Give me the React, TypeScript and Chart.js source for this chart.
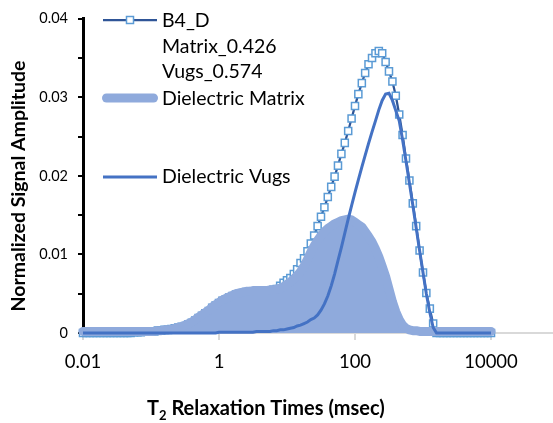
import React, { useEffect, useRef } from 'react';
import { Chart, registerables } from 'chart.js';

Chart.register(...registerables);

// T2 bins (msec), 20 per decade
const T2 = [
  0.01, 0.0112, 0.0126, 0.0141, 0.0158, 0.0178, 0.02, 0.0224, 0.0251, 0.0282, 0.0316, 0.0355, 0.0398, 0.0447, 0.0501, 0.0562, 0.0631, 0.0708, 0.0794, 0.0891,
  0.1, 0.112, 0.126, 0.141, 0.158, 0.178, 0.2, 0.224, 0.251, 0.282, 0.316, 0.355, 0.398, 0.447, 0.501, 0.562, 0.631, 0.708, 0.794, 0.891,
  1, 1.12, 1.26, 1.41, 1.58, 1.78, 2, 2.24, 2.51, 2.82, 3.16, 3.55, 3.98, 4.47, 5.01, 5.62, 6.31, 7.08, 7.94, 8.91,
  10, 11.2, 12.6, 14.1, 15.8, 17.8, 20, 22.4, 25.1, 28.2, 31.6, 35.5, 39.8, 44.7, 50.1, 56.2, 63.1, 70.8, 79.4, 89.1,
  100, 112, 126, 141, 158, 178, 200, 224, 251, 282, 316, 355, 398, 447, 501, 562, 631, 708, 794, 891,
  1000, 1120, 1260, 1410, 1580, 1780, 2000, 2240, 2510, 2820, 3160, 3550, 3980, 4470, 5010, 5620, 6310, 7080, 7940, 8910,
  10000,
];

const B4_D = [
  0, 0, 0, 0, 0, 0, 0, 0, 0, 0, 0, 0, 0, 0, 0, 0.0001, 0.0001, 0.0001, 0.0002, 0.0002,
  0.0002, 0.0002, 0.0003, 0.0003, 0.0004, 0.0004, 0.0005, 0.0006, 0.0007, 0.0008, 0.0009, 0.0011, 0.0013, 0.0016, 0.0019, 0.0022, 0.0025, 0.0028, 0.0032, 0.0035,
  0.0038, 0.0041, 0.0043, 0.0045, 0.0047, 0.0049, 0.005, 0.0051, 0.0052, 0.0052, 0.0053, 0.0053, 0.0053, 0.0053, 0.0054, 0.0054, 0.0055, 0.0056, 0.006, 0.0064,
  0.0067, 0.007, 0.0075, 0.0081, 0.0089, 0.0095, 0.0104, 0.0114, 0.0124, 0.0136, 0.0148, 0.016, 0.0173, 0.0186, 0.0199, 0.0213, 0.0228, 0.0242, 0.0257, 0.0273,
  0.0289, 0.0304, 0.0318, 0.0331, 0.0342, 0.035, 0.0356, 0.0359, 0.0356, 0.0345, 0.0333, 0.032, 0.0302, 0.0278, 0.0252, 0.0222, 0.0194, 0.0165, 0.0136, 0.0105,
  0.0077, 0.0051, 0.0031, 0.0012, 0, 0, 0, 0, 0, 0, 0, 0, 0, 0, 0, 0, 0, 0, 0, 0,
  0,
];

const MATRIX = [
  0.0002, 0.0002, 0.0002, 0.0002, 0.0002, 0.0002, 0.0002, 0.0002, 0.0002, 0.0002, 0.0002, 0.0002, 0.0002, 0.0002, 0.0002, 0.0002, 0.0002, 0.0002, 0.0002, 0.0002,
  0.0002, 0.0002, 0.0003, 0.0003, 0.0004, 0.0004, 0.0005, 0.0006, 0.0007, 0.0008, 0.001, 0.0012, 0.0014, 0.0017, 0.002, 0.0023, 0.0026, 0.0029, 0.0033, 0.0036,
  0.0039, 0.0042, 0.0044, 0.0046, 0.0048, 0.005, 0.0051, 0.0052, 0.0053, 0.0053, 0.0054, 0.0054, 0.0054, 0.0054, 0.0054, 0.0055, 0.0055, 0.0056, 0.0057, 0.0059,
  0.0062, 0.0065, 0.0069, 0.0073, 0.0078, 0.0085, 0.0094, 0.0103, 0.0111, 0.0118, 0.0124, 0.0129, 0.0133, 0.0136, 0.0139, 0.0141, 0.0143, 0.0144, 0.0145, 0.0144,
  0.0141, 0.0138, 0.0135, 0.0129, 0.0123, 0.0116, 0.0107, 0.0097, 0.0085, 0.0072, 0.0056, 0.004, 0.0027, 0.0017, 0.001, 0.0006, 0.0004, 0.0003, 0.0003, 0.0002,
  0.0002, 0.0002, 0.0002, 0.0002, 0.0002, 0.0002, 0.0002, 0.0002, 0.0002, 0.0002, 0.0002, 0.0002, 0.0002, 0.0002, 0.0002, 0.0002, 0.0002, 0.0002, 0.0002, 0.0002,
  0.0002,
];

const VUGS = [
  0, 0, 0, 0, 0, 0, 0, 0, 0, 0, 0, 0, 0, 0, 0, 0, 0, 0, 0, 0,
  0, 0, 0, 0, 0, 0, 0, 0, 0, 0, 0, 0, 0, 0, 0, 0, 0, 0, 0, 0,
  0.0001, 0.0001, 0.0001, 0.0001, 0.0001, 0.0001, 0.0001, 0.0001, 0.0001, 0.0001, 0.0001, 0.0002, 0.0002, 0.0002, 0.0002, 0.0002, 0.0003, 0.0003, 0.0004, 0.0004,
  0.0005, 0.0006, 0.0007, 0.0009, 0.001, 0.0012, 0.0014, 0.0017, 0.0019, 0.0023, 0.0029, 0.0037, 0.0047, 0.006, 0.0075, 0.0092, 0.0109, 0.0127, 0.0145, 0.0162,
  0.0179, 0.0195, 0.0211, 0.0226, 0.0241, 0.0256, 0.027, 0.0284, 0.0296, 0.0304, 0.0305, 0.0296, 0.0283, 0.027, 0.0246, 0.0219, 0.0191, 0.0163, 0.0134, 0.0105,
  0.0077, 0.005, 0.0026, 0.0007, 0, 0, 0, 0, 0, 0, 0, 0, 0, 0, 0, 0, 0, 0, 0, 0,
  0,
];

const X_TICKS = [0.01, 1, 100, 10000];
const LEGEND_LABELS = ['B4_D', 'Matrix_0.426', 'Vugs_0.574', 'Dielectric Matrix', 'Dielectric Vugs'];
const X_TITLE = ['T', '2', ' Relaxation Times (msec)'];
const Y_TITLE = 'Normalized Signal Amplitude';

const FONT = 'Lato';
const C_B4D_LINE = '#2f5597';
const C_B4D_MARK = '#5b9bd5';
const C_MATRIX = '#8faadc';
const C_VUGS = '#4472c4';

const pts = (vals: number[]) => T2.map((x, i) => ({ x, y: vals[i] }));

export default function App() {
  const ref = useRef<HTMLCanvasElement>(null);

  useEffect(() => {
    const overlay = {
      id: 'overlay',
      afterDraw(chart: any) {
        const ctx = chart.ctx as CanvasRenderingContext2D;
        ctx.save();
        // legend markers
        ctx.lineCap = 'butt';
        ctx.strokeStyle = C_B4D_LINE;
        ctx.lineWidth = 2.25;
        ctx.beginPath();
        ctx.moveTo(103, 20);
        ctx.lineTo(157, 20);
        ctx.stroke();
        ctx.fillStyle = '#fff';
        ctx.fillRect(126.5, 16.5, 7, 7);
        ctx.strokeStyle = C_B4D_MARK;
        ctx.lineWidth = 1.5;
        ctx.strokeRect(126.5, 16.5, 7, 7);

        ctx.strokeStyle = C_MATRIX;
        ctx.lineWidth = 9;
        ctx.lineCap = 'round';
        ctx.beginPath();
        ctx.moveTo(106.5, 98);
        ctx.lineTo(153.5, 98);
        ctx.stroke();

        ctx.strokeStyle = C_VUGS;
        ctx.lineWidth = 3;
        ctx.lineCap = 'butt';
        ctx.beginPath();
        ctx.moveTo(103, 177);
        ctx.lineTo(157, 177);
        ctx.stroke();

        // legend text
        ctx.fillStyle = '#000';
        ctx.textAlign = 'left';
        ctx.textBaseline = 'alphabetic';
        ctx.font = `19.5px ${FONT}`;
        const ys = [27, 53, 78, 105, 183];
        LEGEND_LABELS.forEach((t, i) => ctx.fillText(t, 162, ys[i]));

        // x title
        ctx.font = `bold 20px ${FONT}`;
        let x = 147;
        ctx.fillText(X_TITLE[0], x, 415);
        x += ctx.measureText(X_TITLE[0]).width;
        ctx.font = `bold 13px ${FONT}`;
        ctx.fillText(X_TITLE[1], x, 420);
        x += ctx.measureText(X_TITLE[1]).width;
        ctx.font = `bold 20px ${FONT}`;
        ctx.fillText(X_TITLE[2], x, 415);

        // y title
        ctx.translate(25, 186);
        ctx.rotate(-Math.PI / 2);
        ctx.textAlign = 'center';
        ctx.font = `bold 19.5px ${FONT}`;
        ctx.fillText(Y_TITLE, 0, 0);
        ctx.restore();
      },
    };

    const chart = new Chart(ref.current!, {
      type: 'line',
      data: {
        datasets: [
          {
            label: 'Dielectric Vugs',
            data: pts(VUGS),
            borderColor: C_VUGS,
            borderWidth: 3,
            pointRadius: 0,
            fill: false,
            tension: 0,
            clip: false,
            order: 1,
          },
          {
            label: 'Dielectric Matrix',
            data: pts(MATRIX),
            borderColor: C_MATRIX,
            backgroundColor: C_MATRIX,
            borderWidth: 9,
            borderCapStyle: 'round',
            borderJoinStyle: 'round',
            pointRadius: 0,
            fill: 'origin',
            tension: 0,
            clip: false,
            order: 2,
          },
          {
            label: 'B4_D',
            data: pts(B4_D),
            borderColor: C_B4D_LINE,
            borderWidth: 2.25,
            pointStyle: 'rect',
            pointRadius: 5,
            pointBackgroundColor: '#fff',
            pointBorderColor: C_B4D_MARK,
            pointBorderWidth: 1.5,
            fill: false,
            tension: 0,
            clip: false,
            order: 3,
          },
        ] as any,
      },
      options: {
        responsive: false,
        devicePixelRatio: 1,
        animation: false,
        events: [],
        layout: { padding: { left: 0, top: 13, right: 11, bottom: 0 } },
        plugins: {
          legend: { display: false },
          tooltip: { enabled: false },
        },
        scales: {
          x: {
            type: 'logarithmic',
            min: 0.01,
            max: 100000,
            afterBuildTicks: (s: any) => {
              s.ticks = X_TICKS.map((v) => ({ value: v }));
            },
            afterFit: (s: any) => {
              s.height = 90;
            },
            ticks: {
              autoSkip: false,
              maxRotation: 0,
              padding: 11,
              color: '#000',
              font: { family: FONT, size: 18.5 },
              callback: (v: any) => Number(v).toString(),
            },
            grid: { drawOnChartArea: false, drawTicks: true, tickLength: 7, color: '#d9d9d9', lineWidth: 2 },
            border: { color: '#d9d9d9', width: 2 },
          },
          y: {
            type: 'linear',
            min: 0,
            max: 0.04,
            afterFit: (s: any) => {
              s.width = 83;
            },
            ticks: {
              stepSize: 0.005,
              autoSkip: false,
              padding: 10,
              color: '#000',
              font: { family: FONT, size: 14.5 },
              callback: (v: any) => {
                const n = Number(v) / 0.01;
                return Math.abs(n - Math.round(n)) < 1e-6 ? Number(Number(v).toFixed(2)).toString() : '';
              },
            },
            grid: { drawOnChartArea: false, drawTicks: true, tickLength: 5, color: '#000', lineWidth: 2 },
            border: { color: '#000', width: 3 },
          },
        },
      } as any,
      plugins: [overlay],
    });
    return () => chart.destroy();
  }, []);

  return (
    <div style={{ position: 'fixed', left: 0, top: 0, width: 553, height: 423, overflow: 'hidden', background: '#fff' }}>
      <canvas ref={ref} width={570} height={423} style={{ display: 'block', width: 570, height: 423 }} />
    </div>
  );
}
